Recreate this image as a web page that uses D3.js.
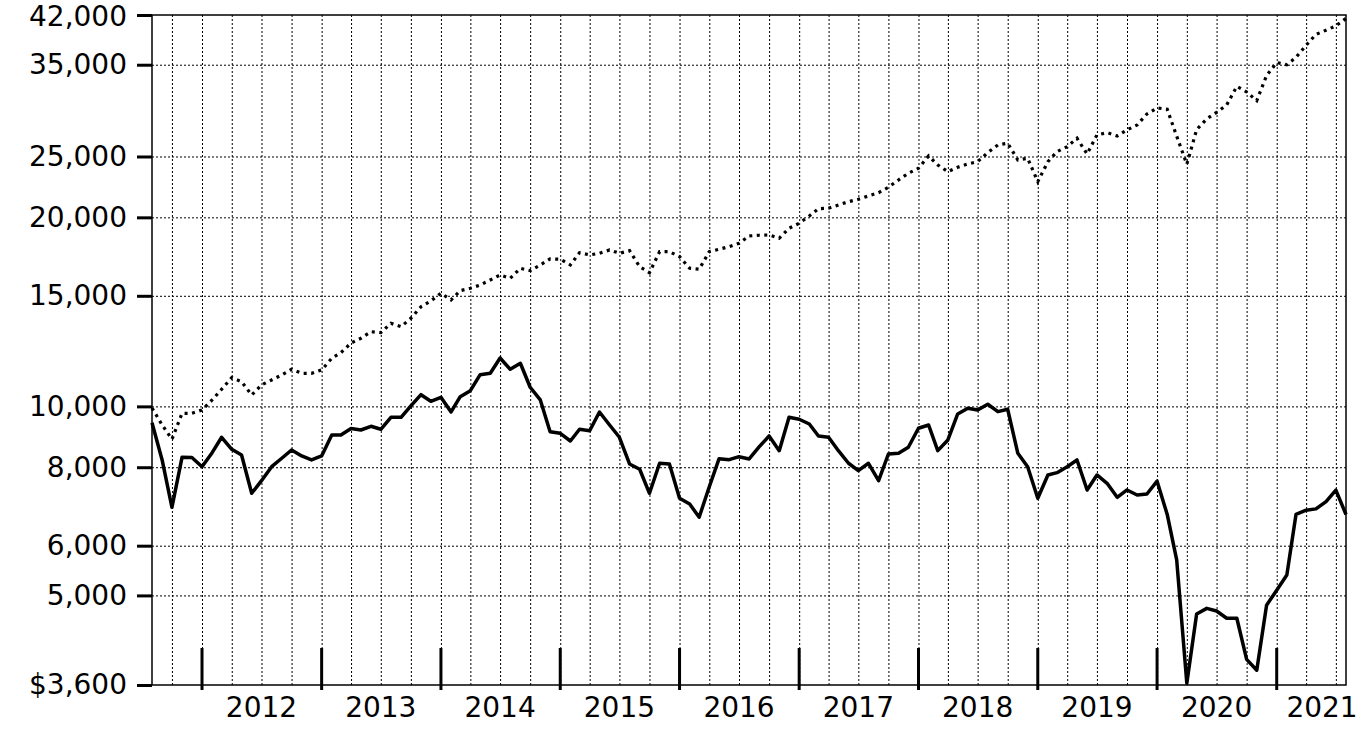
<!DOCTYPE html>
<html lang="en">
<head>
<meta charset="UTF-8">
<title>Growth of $10,000</title>
<script src="https://cdn.jsdelivr.net/npm/d3@7"></script>
<style>
  body { margin: 0; background: #fff; }
  svg { display: block; font-family: 'DejaVu Sans', Verdana, sans-serif; }
</style>
</head>
<body>
<svg id="chart"></svg>
<script>
// monthly values, first point is Aug 2011
const firstMonth = '2011-08';

const solidSeries = [
  9420, 8216, 6907, 8300, 8290, 8016, 8438, 8929, 8544, 8368,
  7271, 7615, 8016, 8267, 8522, 8337, 8216, 8337, 9004, 9004,
  9220, 9170, 9296, 9194, 9608, 9608, 10015, 10438, 10189, 10339,
  9797, 10362, 10593, 11233, 11290, 11942, 11457, 11712, 10726, 10238,
  9114, 9061, 8808, 9194, 9147, 9797, 9341, 8929, 8096, 7940,
  7271, 8117, 8096, 7139, 6991, 6659, 7449, 8255, 8224, 8315,
  8246, 8626, 8972, 8501, 9608, 9538, 9375, 8972, 8929, 8501,
  8117, 7900, 8117, 7615, 8398, 8420, 8607, 9228, 9341, 8501,
  8841, 9725, 9930, 9869, 10077, 9808, 9894, 8420, 8016, 7139,
  7776, 7842, 8016, 8216, 7360, 7776, 7543, 7165, 7360, 7226,
  7253, 7601, 6728, 5696, 3624, 4671, 4768, 4722, 4598, 4598,
  3955, 3801, 4822, 5097, 5387, 6728, 6834, 6867, 7053, 7354,
  6728
];

const dottedSeries = [
  9941, 9341, 8864, 9750, 9750, 9869, 10238, 10647, 11110, 10948,
  10427, 10817, 11016, 11220, 11457, 11290, 11290, 11428, 11929, 12176,
  12617, 12837, 13151, 13103, 13562, 13395, 13814, 14414, 14718, 15140,
  14773, 15285, 15420, 15608, 15896, 16190, 15995, 16593, 16448, 16796,
  17180, 17150, 16796, 17570, 17424, 17533, 17746, 17533, 17700, 16690,
  16328, 17636, 17636, 17315, 16593, 16532, 17636, 17792, 17962, 18188,
  18680, 18730, 18748, 18523, 19215, 19570, 20101, 20647, 20680, 20928,
  21183, 21370, 21630, 21894, 22332, 22938, 23509, 23943, 25048, 24235,
  23648, 24032, 24324, 24530, 25353, 26080, 26243, 24684, 24838, 22796,
  24530, 25447, 25917, 26728, 25234, 27053, 27284, 26955, 27555, 28064,
  29218, 29868, 29727, 26934, 24298, 27585, 28700, 29391, 30199, 32330,
  31674, 30679, 33636, 35279, 35000, 35959, 37591, 39110, 39728, 40360,
  41471
];

const yTicks = [3600, 5000, 6000, 8000, 10000, 15000, 20000, 25000, 35000, 42000];
const yearLabels = [2012, 2013, 2014, 2015, 2016, 2017, 2018, 2019, 2020, 2021];

const totalWidth = 1363, totalHeight = 740;
const margin = { top: 15, right: 17, bottom: 55, left: 152 };
const width = totalWidth - margin.left - margin.right;
const height = totalHeight - margin.top - margin.bottom;

const start = d3.timeParse('%Y-%m')(firstMonth);
const toPoints = arr => arr.map((v, i) => ({ date: d3.timeMonth.offset(start, i), value: v }));
const solidData = toPoints(solidSeries);
const dottedData = toPoints(dottedSeries);

const svg = d3.select('#chart')
  .attr('width', totalWidth)
  .attr('height', totalHeight);

const g = svg.append('g')
  .attr('transform', `translate(${margin.left},${margin.top})`);

const x = d3.scaleTime()
  .domain([start, d3.timeMonth.offset(start, solidSeries.length - 1)])
  .range([0, width]);

const y = d3.scaleLog()
  .domain([3600, 42000])
  .range([height, 0]);

// gridlines
const gridX = g.append('g')
  .attr('transform', `translate(0,${height})`)
  .call(d3.axisBottom(x).ticks(d3.timeMonth.filter(d => d.getMonth() % 3 === 0)).tickSize(-height).tickFormat(''));
const gridY = g.append('g')
  .call(d3.axisLeft(y).tickValues(yTicks.slice(1, -1)).tickSize(-width).tickFormat(''));
[gridX, gridY].forEach(grid => {
  grid.select('.domain').remove();
  grid.selectAll('line')
    .attr('stroke', '#000')
    .attr('stroke-width', 1)
    .attr('stroke-dasharray', '2,2');
});

// y axis ticks and labels
const fmt = d3.format(',');
const yAxis = g.append('g')
  .call(d3.axisLeft(y).tickValues(yTicks).tickSize(15).tickPadding(10)
    .tickFormat(d => (d === 3600 ? '$' : '') + fmt(d)));
yAxis.select('.domain').remove();
yAxis.selectAll('line').attr('stroke', '#000').attr('stroke-width', 3);
yAxis.selectAll('text')
  .attr('fill', '#000')
  .style('font-size', '28px')
  .style('font-family', "'DejaVu Sans', Verdana, sans-serif");
// keep the top label inside the page
yAxis.selectAll('text').filter(d => d === 42000).attr('y', 2);

// year ticks: long marks at Jan 1
const yearStarts = yearLabels.map(yr => new Date(yr, 0, 1));
g.append('g')
  .selectAll('line')
  .data(yearStarts)
  .join('line')
  .attr('x1', d => x(d)).attr('x2', d => x(d))
  .attr('y1', height - 37).attr('y2', height + 5)
  .attr('stroke', '#000')
  .attr('stroke-width', 3);

// year labels centred in the year
const xLabels = g.append('g')
  .attr('transform', `translate(0,${height})`)
  .call(d3.axisBottom(x).tickValues(yearLabels.map(yr => new Date(yr, 6, 1)))
    .tickSize(0).tickPadding(12).tickFormat(d3.timeFormat('%Y')));
xLabels.select('.domain').remove();
xLabels.selectAll('text')
  .attr('fill', '#000')
  .style('font-size', '28px')
  .style('font-family', "'DejaVu Sans', Verdana, sans-serif");
xLabels.selectAll('.tick')
  .attr('transform', d => `translate(${Math.min(x(d), width - 24)},0)`);

// frame
g.append('rect')
  .attr('width', width)
  .attr('height', height)
  .attr('fill', 'none')
  .attr('stroke', '#000')
  .attr('stroke-width', 1.5);

const line = d3.line()
  .x(d => x(d.date))
  .y(d => y(d.value));

g.append('path')
  .datum(dottedData)
  .attr('fill', 'none')
  .attr('stroke', '#000')
  .attr('stroke-width', 3.2)
  .attr('stroke-dasharray', '3,4.5')
  .attr('d', line);

g.append('path')
  .datum(solidData)
  .attr('fill', 'none')
  .attr('stroke', '#000')
  .attr('stroke-width', 3.5)
  .attr('stroke-linejoin', 'round')
  .attr('d', line);
</script>
</body>
</html>
